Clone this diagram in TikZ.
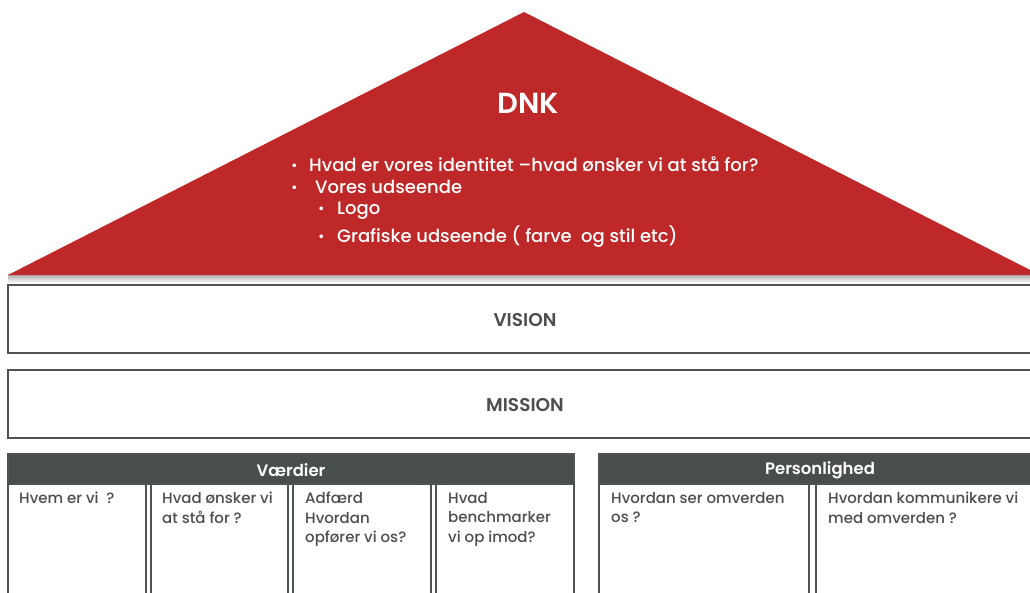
\documentclass[tikz,border=0pt]{standalone}
\usepackage{fontspec}
\setmainfont{Poppins}[UprightFont={* Medium}, BoldFont={* SemiBold}]
\usetikzlibrary{positioning}

\definecolor{dnkred}{RGB}{190,40,40}
\definecolor{frame}{RGB}{78,84,84}
\definecolor{headfill}{RGB}{72,78,78}
\definecolor{bodytext}{RGB}{77,77,77}

\tikzset{
  panel/.style={draw=frame, line width=1.6pt, fill=white},
  header/.style={draw=frame, line width=1.2pt, fill=headfill},
  roofhead/.style={text=white, font=\bfseries\fontsize{29}{32}\selectfont, inner sep=0pt},
  rooftext/.style={text=white, font=\fontsize{18}{20}\selectfont, inner sep=0pt, anchor=base west},
  dot/.style={text=white, font=\fontsize{14}{15}\selectfont, inner sep=0pt, anchor=base west},
  bandlabel/.style={text=bodytext, font=\bfseries\fontsize{18.5}{21}\selectfont, inner sep=0pt},
  headlabel/.style={text=white, font=\bfseries\fontsize{16.5}{19}\selectfont, inner sep=0pt},
  celltext/.style={text=bodytext, font=\fontsize{15}{19.5}\selectfont, inner sep=0pt,
                   anchor=north west, align=left}
}

\begin{document}
\begin{tikzpicture}[x=1pt,y=-1pt]
\useasboundingbox (0,0) rectangle (1030,592);
\clip (0,0) rectangle (1030,592);
\fill[white] (0,0) rectangle (1030,592);

% roof with soft shadow below
\shade[top color=black!35, bottom color=white] (8,274) rectangle (1045,283);
\fill[dnkred] (524,12) -- (1040,275) -- (8,275) -- cycle;

\node[roofhead, anchor=base] (dnk) at (528.5,113) {DNK};

\node[dot] (b1) at (291,170) {•};
\node[rooftext] (t1) at (309,171) {Hvad er vores identitet –hvad ønsker vi at stå for?};
\node[dot] (b2) at (291,192) {•};
\node[rooftext] (t2) at (315,193) {Vores udseende};
\node[dot] (b3) at (318,213) {•};
\node[rooftext] (t3) at (337,214) {Logo};
\node[dot] (b4) at (318,241) {•};
\node[rooftext] (t4) at (337,242) {Grafiske udseende ( farve\ \ og stil etc)};

% vision and mission bands
\draw[panel] (8,285) rectangle (1045,353);
\node[bandlabel] (vision) at (525,320) {VISION};
\draw[panel] (8,370) rectangle (1045,438);
\node[bandlabel] (mission) at (525,405) {MISSION};

% values block
\draw[header] (8,454) rectangle (574,484);
\node[headlabel] (vaerdier) at (291,470) {Værdier};
\draw[panel] (8,484) rectangle (146,600);
\draw[panel] (151,484) rectangle (288,600);
\draw[panel] (293,484) rectangle (431,600);
\draw[panel] (436,484) rectangle (574,600);
\node[celltext] (c1) at (19,492) {Hvem er vi\ \ ?};
\node[celltext] (c2) at (162,492) {Hvad ønsker vi\\at stå for ?};
\node[celltext] (c3) at (305,492) {Adfærd\\Hvordan\\opfører vi os?};
\node[celltext] (c4) at (448,492) {Hvad\\benchmarker\\vi op imod?};

% personality block
\draw[header] (599,454) rectangle (1041,484);
\node[headlabel] (person) at (820,470) {Personlighed};
\draw[panel] (599,484) rectangle (809,600);
\draw[panel] (816,484) rectangle (1045,600);
\node[celltext] (p1) at (611,492) {Hvordan ser omverden\\os ?};
\node[celltext] (p2) at (828,492) {Hvordan kommunikere vi\\med omverden ?};
\end{tikzpicture}
\end{document}
